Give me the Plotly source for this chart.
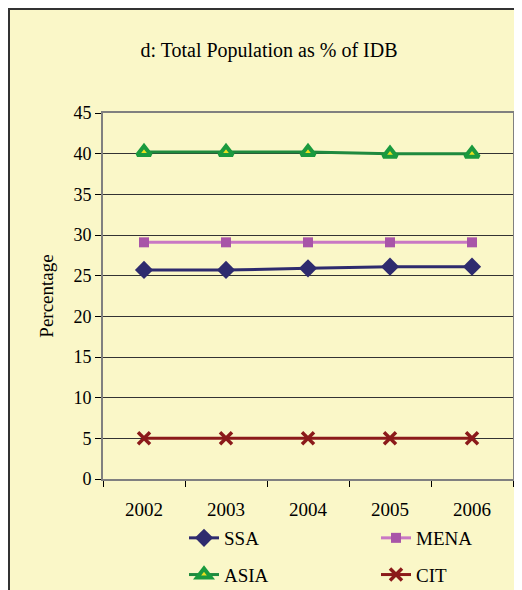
import plotly.graph_objects as go

years = ["2002", "2003", "2004", "2005", "2006"]
ssa = [25.7, 25.7, 25.9, 26.1, 26.1]
mena = [29.1, 29.1, 29.1, 29.1, 29.1]
asia = [40.2, 40.2, 40.2, 40.0, 40.0]
cit = [5.0, 5.0, 5.0, 5.0, 5.0]
y_ticks = [0, 5, 10, 15, 20, 25, 30, 35, 40, 45]

# page body has an 8px margin, so work in shifted coordinates
OFF = 8
W, H = 522 - OFF, 590 - OFF
L, R, T, B = 103 - OFF, 9, 113 - OFF, 111
pw, ph = W - L - R, H - T - B

def px(x):
    return (x - OFF - L) / pw

def py(y):
    return (H - B - (y - OFF)) / ph

FONT = "Liberation Serif"
BG = "#FAF7C8"

fig = go.Figure()
fig.add_trace(go.Scatter(x=years, y=ssa, name="SSA", mode="lines+markers",
                         line=dict(color="#2E2B6E", width=3),
                         marker=dict(symbol="diamond", size=14, color="#2E2B6E"),
                         legend="legend", legendgroup="a"))
fig.add_trace(go.Scatter(x=years, y=mena, name="MENA", mode="lines+markers",
                         line=dict(color="#C978C4", width=3),
                         marker=dict(symbol="square", size=10, color="#A855A8"),
                         legend="legend2", legendgroup="b"))
fig.add_trace(go.Scatter(x=years, y=asia, name="ASIA", mode="lines+markers",
                         line=dict(color="#1E8A3E", width=3),
                         marker=dict(symbol="triangle-up", size=12, color="#E8E020",
                                     line=dict(color="#1A9A3E", width=4)),
                         legend="legend", legendgroup="c"))
fig.add_trace(go.Scatter(x=years, y=cit, name="CIT", mode="lines+markers",
                         line=dict(color="#8B1A1A", width=3),
                         marker=dict(symbol="x-thin", size=12,
                                     line=dict(color="#8B1A1A", width=3.5)),
                         legend="legend2", legendgroup="d"))

# outer yellow panel with dark border
fig.add_shape(type="rect", xref="paper", yref="paper",
              x0=px(9), x1=px(560), y0=py(640), y1=py(9),
              fillcolor=BG, line=dict(color="#333333", width=2), layer="below")

fig.update_layout(
    width=W, height=H,
    margin=dict(l=L, r=R, t=T, b=B, autoexpand=False),
    paper_bgcolor="white",
    plot_bgcolor="rgba(0,0,0,0)",
    font=dict(family=FONT, color="black", size=18),
    title=dict(text="d: Total Population as % of IDB", x=(269 - OFF) / W, xanchor="center",
               xref="container", yref="container", y=1 - (50 - OFF) / H, yanchor="middle",
               font=dict(family=FONT, size=20, color="black")),
    xaxis=dict(type="category", range=[-0.5, 4.5], showgrid=False,
               showline=True, linecolor="#808080", linewidth=2, mirror=True,
               ticks="outside", tickson="boundaries", ticklen=6, tickcolor="black",
               tickfont=dict(size=19, family=FONT), ticklabelstandoff=12),
    yaxis=dict(range=[0, 45], tickvals=y_ticks, showgrid=True, gridcolor="#333333",
               gridwidth=1, zeroline=False,
               showline=True, linecolor="#808080", linewidth=2, mirror=True,
               ticks="outside", ticklen=6, tickcolor="black",
               tickfont=dict(size=18, family=FONT),
               title=dict(text="Percentage", font=dict(size=19, family=FONT), standoff=15)),
    legend=dict(x=px(184), y=py(519), xanchor="left", yanchor="top",
                bgcolor="rgba(0,0,0,0)", font=dict(size=19, family=FONT),
                tracegroupgap=9, traceorder="grouped"),
    legend2=dict(x=px(376), y=py(519), xanchor="left", yanchor="top",
                 bgcolor="rgba(0,0,0,0)", font=dict(size=19, family=FONT),
                 tracegroupgap=9, traceorder="grouped"),
)

fig.write_html("out.html")
